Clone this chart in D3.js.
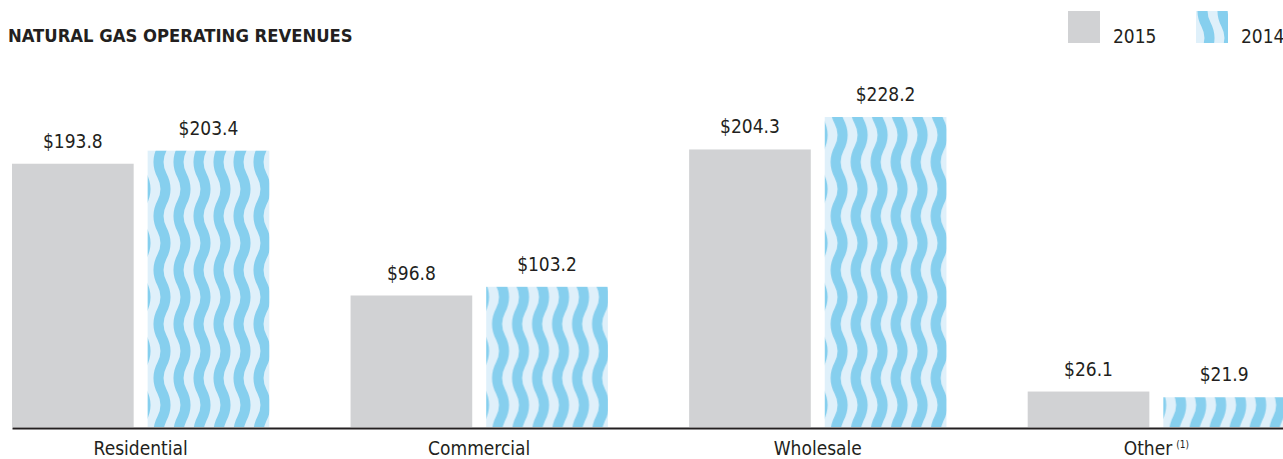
<!DOCTYPE html>
<html>
<head>
<meta charset="utf-8">
<script src="https://cdn.jsdelivr.net/npm/d3@7"></script>
<style>
  body { margin: 0; background: #fff; }
  text { font-family: "Liberation Sans Narrow", "DejaVu Sans Condensed", "Roboto", sans-serif; fill: #231f20; }
</style>
</head>
<body>
<div id="chart"></div>
<script>
// chart data
var categories = ["Residential", "Commercial", "Wholesale", "Other"];
var years = ["2015", "2014"];
var values2015 = [193.8, 96.8, 204.3, 26.1];
var values2014 = [203.4, 103.2, 228.2, 21.9];

var w = 1283;
var h = 459;

var svg = d3.select("#chart")
            .append("svg")
            .attr("width", w)
            .attr("height", h);

// wavy stripe pattern for 2014
var defs = svg.append("defs");
var pat = defs.append("pattern")
    .attr("id", "wave")
    .attr("patternUnits", "userSpaceOnUse")
    .attr("width", 20)
    .attr("height", 54);
pat.append("rect").attr("width", 20).attr("height", 54).attr("fill", "#dff0fa");
pat.append("path")
    .attr("d", "M10,-13.5 Q3,0 10,13.5 Q17,27 10,40.5 Q3,54 10,67.5")
    .attr("fill", "none")
    .attr("stroke", "#86cfee")
    .attr("stroke-width", 10);

var colors = { "2015": "#d1d2d4", "2014": "url(#wave)" };

var data = categories.map(function(c, i) {
    return { cat: c, vals: [
        { year: "2015", v: values2015[i] },
        { year: "2014", v: values2014[i] }
    ]};
});

var baseY = 427;

var x0 = d3.scaleBand()
    .domain(categories)
    .range([12, 1285])
    .paddingInner(0.24)
    .paddingOuter(0);

var x1 = d3.scaleBand()
    .domain(years)
    .range([0, x0.bandwidth()])
    .paddingInner(0.103)
    .paddingOuter(0);

var y = d3.scaleLinear()
    .domain([0, 228.2])
    .range([baseY, 117]);

var groups = svg.selectAll("g.grp")
    .data(data)
    .enter()
    .append("g")
    .attr("class", "grp")
    .attr("transform", function(d) { return "translate(" + x0(d.cat) + ",0)"; });

groups.selectAll("rect")
    .data(function(d) { return d.vals; })
    .enter()
    .append("rect")
    .attr("x", function(d) { return x1(d.year); })
    .attr("y", function(d) { return y(d.v); })
    .attr("width", x1.bandwidth())
    .attr("height", function(d) { return baseY - y(d.v); })
    .attr("fill", function(d) { return colors[d.year]; });

// value labels
groups.selectAll("text.val")
    .data(function(d) { return d.vals; })
    .enter()
    .append("text")
    .attr("class", "val")
    .text(function(d) { return "$" + d.v.toFixed(1); })
    .attr("x", function(d) { return x1(d.year) + x1.bandwidth() / 2; })
    .attr("y", function(d) { return y(d.v) - 16; })
    .attr("font-size", "19px")
    .attr("text-anchor", "middle");

// x axis
var axis = svg.append("g")
    .attr("transform", "translate(0," + (baseY + 1) + ")")
    .call(d3.axisBottom(x0).tickSize(0).tickSizeOuter(0).tickPadding(14));
axis.attr("font-family", null);
axis.select(".domain").attr("stroke", "#231f20").attr("stroke-width", 2);
axis.selectAll(".tick text")
    .attr("font-size", "19px")
    .attr("fill", "#231f20")
    .each(function(d) {
        if (d === "Other") {
            d3.select(this).append("tspan")
                .attr("dx", 4)
                .attr("dy", -7)
                .attr("font-size", "10px")
                .text("(1)");
        }
    });

// title
svg.append("text")
    .text("NATURAL GAS OPERATING REVENUES")
    .attr("x", 8)
    .attr("y", 42)
    .attr("font-size", "18.3px")
    .attr("font-weight", "bold");

// legend
var legend = svg.selectAll("g.leg")
    .data(years)
    .enter()
    .append("g")
    .attr("class", "leg")
    .attr("transform", function(d, i) { return "translate(" + (1068 + i * 128) + ",11)"; });
legend.append("rect")
    .attr("width", 32)
    .attr("height", 32)
    .attr("fill", function(d) { return colors[d]; });
legend.append("text")
    .text(function(d) { return d; })
    .attr("x", 45)
    .attr("y", 32)
    .attr("font-size", "19px");
</script>
</body>
</html>
